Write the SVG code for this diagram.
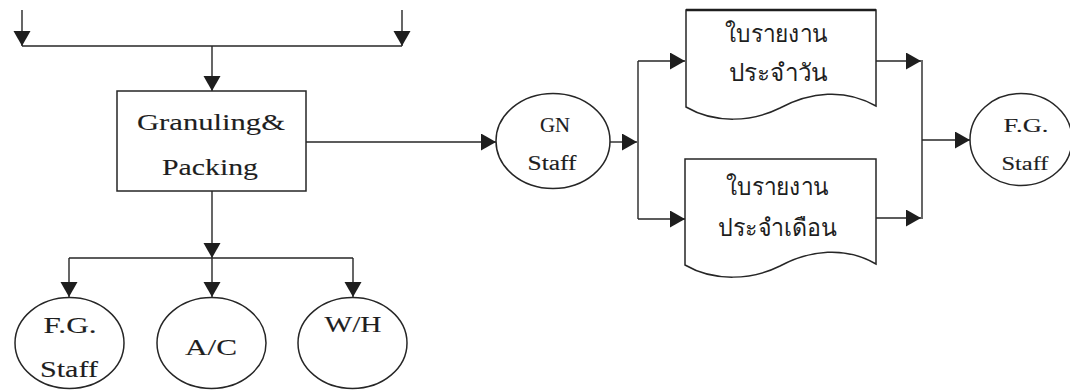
<svg xmlns="http://www.w3.org/2000/svg" width="1070" height="391" viewBox="0 0 1070 391">
  <style>
    .shape { fill: #ffffff; stroke: #262626; stroke-width: 1.5; }
    .wire { fill: none; stroke: #262626; stroke-width: 1.4; }
    .lbl { font-family: "Liberation Serif", "Times New Roman", serif; fill: #1e1e1e; stroke: #1e1e1e; stroke-width: 0.12; text-anchor: middle; }
    .thai { font-family: "Noto Sans", "DejaVu Sans", sans-serif; fill: #1e1e1e; text-anchor: middle; }
  </style>
  <defs>
    <marker id="arrow" markerUnits="userSpaceOnUse" markerWidth="16" markerHeight="18" refX="15" refY="8.5" orient="auto">
      <path d="M0,0 L15,8.5 L0,17 Z" fill="#1e1e1e"/>
    </marker>
  </defs>
  <rect width="1070" height="391" fill="#ffffff"/>

  <!-- connectors -->
  <g id="connectors" class="wire">
    <line x1="22" y1="10" x2="22" y2="46" marker-end="url(#arrow)"/>
    <line x1="402" y1="10" x2="402" y2="46" marker-end="url(#arrow)"/>
    <line x1="22" y1="46" x2="402" y2="46"/>
    <line x1="212" y1="46" x2="212" y2="91" marker-end="url(#arrow)"/>

    <line x1="212" y1="191" x2="212" y2="258" marker-end="url(#arrow)"/>
    <line x1="69" y1="258" x2="353" y2="258"/>
    <line x1="69" y1="258" x2="69" y2="297" marker-end="url(#arrow)"/>
    <line x1="212" y1="258" x2="212" y2="297" marker-end="url(#arrow)"/>
    <line x1="353" y1="258" x2="353" y2="297" marker-end="url(#arrow)"/>

    <line x1="306" y1="142" x2="496" y2="142" marker-end="url(#arrow)"/>
    <line x1="610" y1="142" x2="637" y2="142" marker-end="url(#arrow)"/>
    <line x1="638" y1="61" x2="638" y2="219"/>
    <line x1="638" y1="61" x2="685" y2="61" marker-end="url(#arrow)"/>
    <line x1="638" y1="219" x2="685" y2="219" marker-end="url(#arrow)"/>

    <line x1="876" y1="61" x2="921" y2="61" marker-end="url(#arrow)"/>
    <line x1="876" y1="218" x2="921" y2="218" marker-end="url(#arrow)"/>
    <line x1="922" y1="60" x2="922" y2="219"/>
    <line x1="922" y1="140" x2="970" y2="140" marker-end="url(#arrow)"/>
  </g>

  <!-- process box -->
  <g id="granuling-packing">
    <rect class="shape" x="117" y="91" width="189" height="100"/>
    <text class="lbl" x="211" y="130" font-size="23" textLength="148" lengthAdjust="spacingAndGlyphs">Granuling&amp;</text>
    <text class="lbl" x="210" y="175" font-size="23" textLength="96" lengthAdjust="spacingAndGlyphs">Packing</text>
  </g>

  <!-- receivers below the box -->
  <g id="fg-staff-bottom">
    <ellipse class="shape" cx="69.5" cy="343" rx="54.5" ry="45.5"/>
    <text class="lbl" x="70" y="333" font-size="23" textLength="53" lengthAdjust="spacingAndGlyphs">F.G.</text>
    <text class="lbl" x="69" y="377" font-size="23" textLength="58" lengthAdjust="spacingAndGlyphs">Staff</text>
  </g>
  <g id="ac">
    <ellipse class="shape" cx="211.5" cy="343" rx="54.5" ry="45.5"/>
    <text class="lbl" x="211" y="355" font-size="23" textLength="52" lengthAdjust="spacingAndGlyphs">A/C</text>
  </g>
  <g id="wh">
    <ellipse class="shape" cx="352.5" cy="343" rx="54.5" ry="45.5"/>
    <text class="lbl" x="353" y="332" font-size="23" textLength="57" lengthAdjust="spacingAndGlyphs">W/H</text>
  </g>

  <!-- GN staff -->
  <g id="gn-staff">
    <ellipse class="shape" cx="553" cy="141" rx="57" ry="47.5"/>
    <text class="lbl" x="555" y="132" font-size="20" textLength="30" lengthAdjust="spacingAndGlyphs">GN</text>
    <text class="lbl" x="552" y="170" font-size="20" textLength="49" lengthAdjust="spacingAndGlyphs">Staff</text>
  </g>

  <!-- daily report document -->
  <g id="daily-report">
    <path class="shape" d="M686,10 L876,10 L876,106 C845,88 810,92 780,108 C752,122 715,124 686,107 Z"/>
    <line x1="686" y1="10" x2="876" y2="10" stroke="#1e1e1e" stroke-width="2.4"/>
    <text class="thai" x="776" y="42" font-size="24" textLength="102" lengthAdjust="spacingAndGlyphs">ใบรายงาน</text>
    <text class="thai" x="778" y="81" font-size="24" textLength="98" lengthAdjust="spacingAndGlyphs">ประจำวัน</text>
  </g>

  <!-- monthly report document -->
  <g id="monthly-report">
    <path class="shape" d="M685,159 L876,159 L876,264 C845,246 810,250 780,266 C752,280 714,282 685,265 Z"/>
    <text class="thai" x="777" y="195" font-size="24" textLength="102" lengthAdjust="spacingAndGlyphs">ใบรายงาน</text>
    <text class="thai" x="777" y="236" font-size="24" textLength="118" lengthAdjust="spacingAndGlyphs">ประจำเดือน</text>
  </g>

  <!-- F.G. staff on the right -->
  <g id="fg-staff-right">
    <ellipse class="shape" cx="1021" cy="139.5" rx="51" ry="46"/>
    <text class="lbl" x="1026" y="132" font-size="19" textLength="45" lengthAdjust="spacingAndGlyphs">F.G.</text>
    <text class="lbl" x="1025" y="170" font-size="19" textLength="47" lengthAdjust="spacingAndGlyphs">Staff</text>
  </g>
</svg>
